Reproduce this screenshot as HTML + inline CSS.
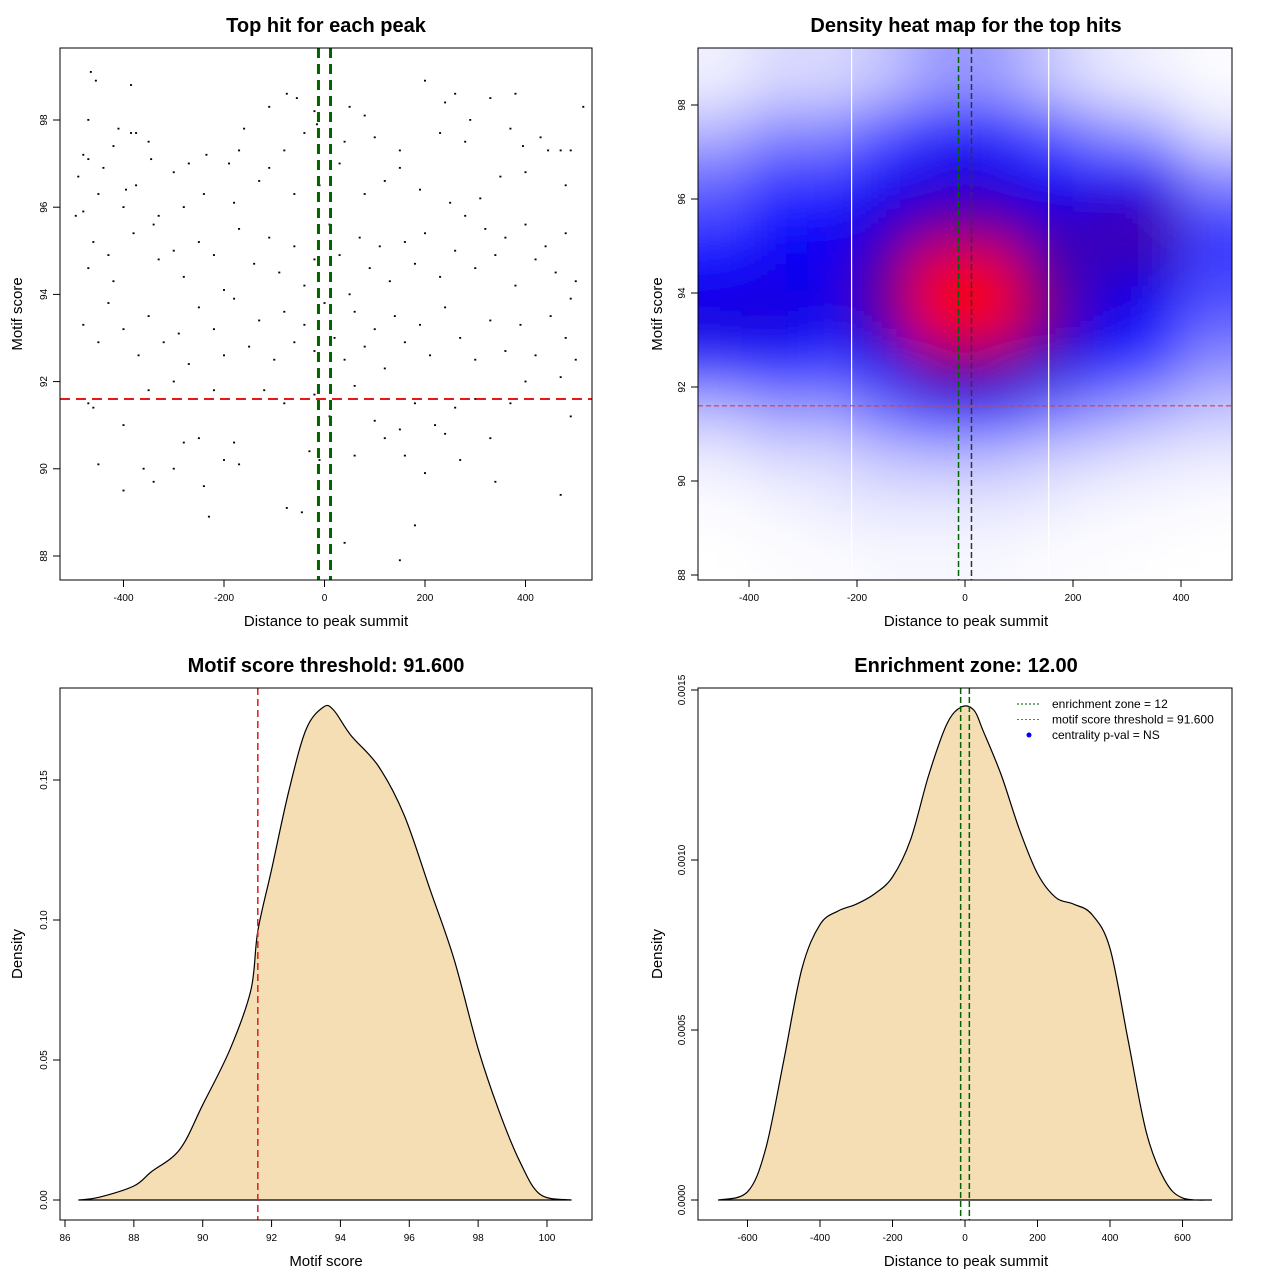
<!DOCTYPE html>
<html><head><meta charset="utf-8"><style>
html,body{margin:0;padding:0;background:#fff;}
svg{display:block;font-family:"Liberation Sans",sans-serif;}
</style></head><body>
<svg id="root" width="1280" height="1280" viewBox="0 0 1280 1280" xmlns="http://www.w3.org/2000/svg">
<defs>
<clipPath id="hmclip"><rect x="698" y="48" width="534" height="532"/></clipPath>
<filter id="blur" x="600" y="-60" width="740" height="760" filterUnits="userSpaceOnUse"><feGaussianBlur stdDeviation="26"/></filter>
</defs>
</svg>
<script>
// ---------- DATA ----------
const scatterX = [-465,-455,-470,-385,-410,-375,-385,-480,-470,-490,-440,-420,-350,-345,-450,-395,-375,-300,-270,-235,-190,-170,-160,-110,-75,-55,-20,-15,-40,-80,-110,50,80,100,40,150,200,240,260,230,280,290,330,380,370,395,430,445,470,490,515,480,400,350,310,250,190,150,120,80,30,-10,-60,-130,-180,-240,-280,-330,-400,-480,-495,
-460,-430,-470,-420,-380,-340,-330,-300,-280,-250,-220,-200,-170,-140,-110,-90,-60,-40,-20,10,30,50,70,90,110,130,160,180,200,230,260,280,300,320,340,360,380,400,420,440,460,480,500,490,
-480,-450,-430,-400,-370,-350,-320,-290,-270,-250,-220,-200,-180,-150,-130,-100,-80,-60,-40,-20,0,20,40,60,80,100,120,140,160,190,210,240,270,300,330,360,390,420,450,480,500,470,
-470,-460,-400,-420,-350,-300,-260,-220,-160,-120,-80,-20,10,30,60,100,120,150,180,220,240,260,300,330,370,400,440,490,
-450,-360,-300,-280,-250,-200,-180,-170,-30,-10,60,160,200,270,-400,-340,-240,-75,-45,40,180,150,-230,340,470];
const scatterY = [99.1,98.9,98,98.8,97.8,97.7,97.7,97.2,97.1,96.7,96.9,97.4,97.5,97.1,96.3,96.4,96.5,96.8,97.0,97.2,97.0,97.3,97.8,98.3,98.6,98.5,98.2,97.9,97.7,97.3,96.9,98.3,98.1,97.6,97.5,97.3,98.9,98.4,98.6,97.7,97.5,98.0,98.5,98.6,97.8,97.4,97.6,97.3,97.3,97.3,98.3,96.5,96.8,96.7,96.2,96.1,96.4,96.9,96.6,96.3,97.0,96.5,96.3,96.6,96.1,96.3,96.0,95.8,96.0,95.9,95.8,
95.2,94.9,94.6,94.3,95.4,95.6,94.8,95.0,94.4,95.2,94.9,94.1,95.5,94.7,95.3,94.5,95.1,94.2,94.8,95.6,94.9,94.0,95.3,94.6,95.1,94.3,95.2,94.7,95.4,94.4,95.0,95.8,94.6,95.5,94.9,95.3,94.2,95.6,94.8,95.1,94.5,95.4,94.3,93.9,
93.3,92.9,93.8,93.2,92.6,93.5,92.9,93.1,92.4,93.7,93.2,92.6,93.9,92.8,93.4,92.5,93.6,92.9,93.3,92.7,93.8,93.0,92.5,93.6,92.8,93.2,92.3,93.5,92.9,93.3,92.6,93.7,93.0,92.5,93.4,92.7,93.3,92.6,93.5,93.0,92.5,92.1,
91.5,91.4,91.0,91.6,91.8,92.0,91.6,91.8,91.6,91.8,91.5,91.7,91.2,91.6,91.9,91.1,90.7,90.9,91.5,91.0,90.8,91.4,91.6,90.7,91.5,92.0,91.6,91.2,
90.1,90.0,90.0,90.6,90.7,90.2,90.6,90.1,90.4,90.2,90.3,90.3,89.9,90.2,89.5,89.7,89.6,89.1,89.0,88.3,88.7,87.9,88.9,89.7,89.4];

const hmX = [-450,-350,-250,-150,-50,50,150,250,350,450];
const hmY = [98.5,97.5,96.5,95.5,94.5,93.5,92.5,91.5,90.5,89.5,88.5];
const hmDensity = [
[0.08,0.15,0.15,0.2,0.28,0.28,0.2,0.12,0.08,0.03],
[0.22,0.3,0.3,0.38,0.45,0.45,0.38,0.3,0.25,0.12],
[0.35,0.42,0.42,0.5,0.53,0.53,0.5,0.48,0.48,0.3],
[0.42,0.48,0.5,0.56,0.64,0.64,0.57,0.6,0.62,0.42],
[0.5,0.52,0.52,0.64,0.9,0.9,0.64,0.57,0.57,0.42],
[0.55,0.55,0.52,0.64,1.0,1.0,0.7,0.54,0.5,0.38],
[0.45,0.48,0.43,0.52,0.68,0.68,0.57,0.47,0.42,0.3],
[0.22,0.28,0.28,0.36,0.45,0.45,0.36,0.3,0.25,0.2],
[0.1,0.15,0.15,0.2,0.22,0.22,0.18,0.15,0.12,0.1],
[0.03,0.06,0.1,0.12,0.12,0.12,0.1,0.06,0.05,0.03],
[0,0.02,0.03,0.05,0.05,0.05,0.03,0.02,0.01,0]];

const scoreX = [86.4,87,88,88.5,89.33,90,90.8,91.4,91.6,92,92.5,93,93.5,93.8,94.3,95.1,95.85,96.6,97.3,98,98.6,99.2,99.8,100.7];
const scoreD = [0,0.001,0.005,0.01,0.018,0.034,0.054,0.075,0.096,0.118,0.146,0.168,0.176,0.175,0.166,0.155,0.1375,0.111,0.086,0.054,0.032,0.014,0.002,0];

const distX = [-680,-600,-550,-500,-450,-400,-350,-300,-250,-200,-150,-100,-50,-10,25,50,100,150,200,250,300,350,400,450,500,550,600,680];
const distD = [0,0.000024,0.00015,0.00041,0.00068,0.00081,0.00085,0.00087,0.0009,0.00095,0.00106,0.00125,0.0014,0.00145,0.00144,0.00138,0.00125,0.00109,0.00096,0.00089,0.00087,0.00084,0.00074,0.00047,0.0002,0.00006,0.000006,0];

const threshold = 91.6;
const zone = 12;

const xTicks1 = [-400,-200,0,200,400];
const yTicks1 = [88,90,92,94,96,98];
const xTicks3 = [86,88,90,92,94,96,98,100];
const yTicks3 = [0,0.05,0.10,0.15];
const yTickLabels3 = ["0.00","0.05","0.10","0.15"];
const xTicks4 = [-600,-400,-200,0,200,400,600];
const yTicks4 = [0,0.0005,0.001,0.0015];
const yTickLabels4 = ["0.0000","0.0005","0.0010","0.0015"];

// ---------- HELPERS ----------
const NS="http://www.w3.org/2000/svg";
const root=document.getElementById('root');
function mk(tag,attrs,parent){const e=document.createElementNS(NS,tag);for(const k in attrs)e.setAttribute(k,attrs[k]);(parent||root).appendChild(e);return e;}
function lin(d0,d1,p0,p1){return v=>p0+(v-d0)*(p1-p0)/(d1-d0);}
function smoothPath(pts){let d=`M${pts[0][0]},${pts[0][1]}`;
for(let i=0;i<pts.length-1;i++){const p0=pts[Math.max(0,i-1)],p1=pts[i],p2=pts[i+1],p3=pts[Math.min(pts.length-1,i+2)];
const c1=[p1[0]+(p2[0]-p0[0])/6,p1[1]+(p2[1]-p0[1])/6],c2=[p2[0]-(p3[0]-p1[0])/6,p2[1]-(p3[1]-p1[1])/6];
d+=` C${c1[0]},${c1[1]} ${c2[0]},${c2[1]} ${p2[0]},${p2[1]}`;}return d;}

function frame(x,y,w,h,name){const r=mk('rect',{x:x,y:y,width:w,height:h,fill:'none',stroke:'#000','stroke-width':1});

}
function xAxis(ticks,labels,sx,y0,name){const g=mk('g',{});


mk('line',{x1:sx(ticks[0]),x2:sx(ticks[ticks.length-1]),y1:y0,y2:y0,stroke:'#000'},g);
ticks.forEach((t,i)=>{mk('line',{x1:sx(t),x2:sx(t),y1:y0,y2:y0+7,stroke:'#000'},g);
const tx=mk('text',{x:sx(t),y:y0+21,'font-size':10,'text-anchor':'middle'},g);tx.textContent=labels[i];});}
function yAxis(ticks,labels,sy,x0,name){const g=mk('g',{});


mk('line',{x1:x0,x2:x0,y1:sy(ticks[0]),y2:sy(ticks[ticks.length-1]),stroke:'#000'},g);
ticks.forEach((t,i)=>{mk('line',{x1:x0,x2:x0-7,y1:sy(t),y2:sy(t),stroke:'#000'},g);
const tx=mk('text',{x:x0-13,y:sy(t),'font-size':10,'text-anchor':'middle',transform:`rotate(-90 ${x0-13} ${sy(t)})`},g);tx.textContent=labels[i];});}
function text(x,y,s,size,name,opts){const t=mk('text',Object.assign({x:x,y:y,'font-size':size,'text-anchor':'middle'},opts||{}));t.textContent=s;

return t;}
function vtext(x,y,s,size,name){const t=mk('text',{x:x,y:y,'font-size':size,'text-anchor':'middle',transform:`rotate(-90 ${x} ${y})`});t.textContent=s;

}

// ---------- PANEL 1 ----------
(function(){
const sx=lin(0,200,324.5,425), sy=lin(98,88,120,556);
const g=mk('g',{});


scatterX.forEach((x,i)=>{const p=mk('rect',{x:sx(x)-1,y:sy(scatterY[i])-1,width:2,height:1.8,fill:'#000'},g);

});
let l=mk('line',{x1:60,x2:592,y1:sy(threshold),y2:sy(threshold),stroke:'#e41a1c','stroke-width':2,'stroke-dasharray':'10,6'});


[-zone,zone].forEach(z=>{const v=mk('line',{x1:sx(z),x2:sx(z),y1:48,y2:580,stroke:'#006400','stroke-width':3,'stroke-dasharray':'10,6'});

});
frame(60,48,532,532,'scatter-plot-frame');
xAxis(xTicks1,xTicks1.map(String),sx,580,'x-axis-scatter');
yAxis(yTicks1,yTicks1.map(String),sy,60,'y-axis-scatter');
text(326,32,'Top hit for each peak',20,'title-scatter',{'font-weight':'bold'});
text(326,626,'Distance to peak summit',15,'x-axis-title-scatter');
vtext(22,314,'Motif score',15,'y-axis-title-scatter');
})();

// ---------- PANEL 2 ----------
(function(){
const sx=lin(0,200,965,1073), sy=lin(98,88,105,575);
function col(v){v=Math.max(0,Math.min(1,v));let r,g,b;
if(v<0.5){const t=Math.pow(v/0.5,1.6);r=255*(1-t);g=255*(1-t);b=255;}else{const t=Math.min(1,(v-0.5)/0.42);r=255*t;g=0;b=255*Math.pow(1-t,1.3);}
return `rgb(${r|0},${g|0},${b|0})`;}
const cg=mk('g',{'clip-path':'url(#hmclip)'});


const bg=mk('g',{filter:'url(#blur)'},cg);
const nr=hmY.length,nc=hmX.length;
for(let i=-3;i<nr+3;i++)for(let j=-3;j<nc+3;j++){
const ii=Math.max(0,Math.min(nr-1,i)),jj=Math.max(0,Math.min(nc-1,j));
const dx=hmX[1]-hmX[0],dy=hmY[0]-hmY[1];
const xc=hmX[0]+j*dx,yc=hmY[0]-i*dy;
const c=mk('rect',{x:sx(xc-dx/2),y:sy(yc+dy/2),width:sx(xc+dx/2)-sx(xc-dx/2)+0.5,height:sy(yc-dy/2)-sy(yc+dy/2)+0.5,fill:col(hmDensity[ii][jj])},bg);

}
[-210,155].forEach(v=>{const l=mk('line',{x1:sx(v),x2:sx(v),y1:48,y2:580,stroke:'#fff','stroke-width':1.2});

});
let l=mk('line',{x1:698,x2:1232,y1:sy(threshold),y2:sy(threshold),stroke:'#d04040','stroke-width':1.2,'stroke-dasharray':'5,3'});


const z1=mk('line',{x1:sx(-zone),x2:sx(-zone),y1:48,y2:580,stroke:'#006400','stroke-width':1.5,'stroke-dasharray':'6,3'});


const z2=mk('line',{x1:sx(zone),x2:sx(zone),y1:48,y2:580,stroke:'#333','stroke-width':1.5,'stroke-dasharray':'6,3'});


frame(698,48,534,532,'heatmap-frame');
xAxis(xTicks1,xTicks1.map(String),sx,580,'x-axis-heatmap');
yAxis(yTicks1,yTicks1.map(String),sy,698,'y-axis-heatmap');
text(966,32,'Density heat map for the top hits',20,'title-heatmap',{'font-weight':'bold'});
text(966,626,'Distance to peak summit',15,'x-axis-title-heatmap');
vtext(662,314,'Motif score',15,'y-axis-title-heatmap');
})();

// ---------- PANEL 3 ----------
(function(){
const sx=lin(86,100,65,547), sy=lin(0,0.05,1200,1060);
const pts=scoreX.map((x,i)=>[sx(x),sy(scoreD[i])]);
const d=smoothPath(pts)+' Z';
const a=mk('path',{d:d,fill:'#f5deb3',stroke:'#000','stroke-width':1.2,'stroke-linejoin':'round'});


const l=mk('line',{x1:sx(threshold),x2:sx(threshold),y1:688,y2:1220,stroke:'#e41a1c','stroke-width':1.5,'stroke-dasharray':'7,4'});


frame(60,688,532,532,'score-density-frame');
xAxis(xTicks3,xTicks3.map(String),sx,1220,'x-axis-score');
yAxis(yTicks3,yTickLabels3,sy,60,'y-axis-score');
text(326,672,'Motif score threshold: 91.600',20,'title-score-density',{'font-weight':'bold'});
text(326,1266,'Motif score',15,'x-axis-title-score');
vtext(22,954,'Density',15,'y-axis-title-score');
})();

// ---------- PANEL 4 ----------
(function(){
const sx=lin(0,200,965,1037.5), sy=lin(0,0.0005,1200,1030);
const pts=distX.map((x,i)=>[sx(x),sy(distD[i])]);
const d=smoothPath(pts)+' Z';
const a=mk('path',{d:d,fill:'#f5deb3',stroke:'#000','stroke-width':1.2,'stroke-linejoin':'round'});


[-zone,zone].forEach(z=>{const v=mk('line',{x1:sx(z),x2:sx(z),y1:688,y2:1220,stroke:'#006400','stroke-width':1.5,'stroke-dasharray':'6,3'});

});
frame(698,688,534,532,'distance-density-frame');
xAxis(xTicks4,xTicks4.map(String),sx,1220,'x-axis-distance');
yAxis(yTicks4,yTickLabels4,sy,698,'y-axis-distance');
text(966,672,'Enrichment zone: 12.00',20,'title-distance-density',{'font-weight':'bold'});
text(966,1266,'Distance to peak summit',15,'x-axis-title-distance');
vtext(662,954,'Density',15,'y-axis-title-distance');
const lg=mk('g',{});


const items=[['enrichment zone = 12','#006400','line'],['motif score threshold = 91.600','#ff3030','line'],['centrality p-val = NS','#0000ff','dot']];
items.forEach((it,i)=>{const y=704+i*15.5;
if(it[2]==='line'){const l=mk('line',{x1:1017,x2:1041,y1:y,y2:y,stroke:it[1],'stroke-width':1,'stroke-dasharray':'2,2'},lg);

}
else{const c=mk('circle',{cx:1029,cy:y,r:2.5,fill:it[1]},lg);

}
const t=mk('text',{x:1052,y:y+4,'font-size':12},lg);t.textContent=it[0];

});
})();
</script>
</body></html>
